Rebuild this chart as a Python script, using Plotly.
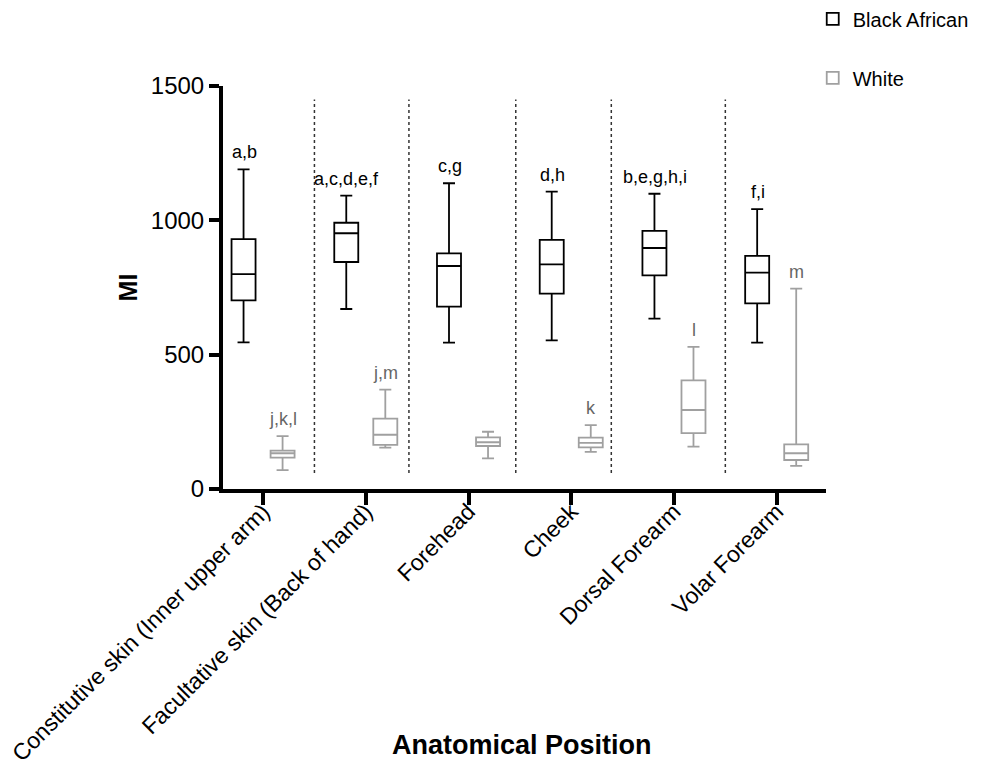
import plotly.graph_objects as go

categories = ["Constitutive skin (Inner upper arm)", "Facultative skin (Back of hand)",
              "Forehead", "Cheek", "Dorsal Forearm", "Volar Forearm"]

# Black African
ba_low = [546, 670, 545, 553, 634, 545]
ba_q1 = [702, 845, 679, 727, 795, 691]
ba_med = [800, 952, 830, 836, 897, 805]
ba_q3 = [930, 991, 877, 927, 961, 868]
ba_high = [1190, 1092, 1138, 1107, 1099, 1042]
ba_labels = ["a,b", "a,c,d,e,f", "c,g", "d,h", "b,e,g,h,i", "f,i"]

# White
wh_low = [70, 154, 114, 138, 158, 86]
wh_q1 = [117, 164, 160, 155, 208, 108]
wh_med = [133, 202, 174, 172, 294, 133]
wh_q3 = [143, 262, 192, 191, 404, 166]
wh_high = [197, 370, 213, 238, 529, 746]
wh_labels = ["j,k,l", "j,m", "", "k", "l", "m"]

separators = [0.5, 1.42, 2.46, 3.39, 4.5]

BLACK = "#000000"
GREY = "#a0a0a0"
FONT = "Liberation Sans, Arial, sans-serif"

fig = go.Figure()
fig.add_trace(go.Box(
    name="Black African", x=categories, q1=ba_q1, median=ba_med, q3=ba_q3,
    lowerfence=ba_low, upperfence=ba_high,
    line=dict(color=BLACK, width=1.8), fillcolor="white",
    whiskerwidth=0.5, legendgroup="ba",
))
fig.add_trace(go.Box(
    name="White", x=categories, q1=wh_q1, median=wh_med, q3=wh_q3,
    lowerfence=wh_low, upperfence=wh_high,
    line=dict(color=GREY, width=1.8), fillcolor="white",
    whiskerwidth=0.5, legendgroup="wh",
))

for i, c in enumerate(categories):
    if ba_labels[i]:
        fig.add_annotation(x=c, y=ba_high[i], text=ba_labels[i], showarrow=False,
                           xshift=-19, yshift=5, yanchor="bottom",
                           font=dict(family=FONT, size=18, color=BLACK))
    if wh_labels[i]:
        fig.add_annotation(x=c, y=wh_high[i], text=wh_labels[i], showarrow=False,
                           xshift=20, yshift=5, yanchor="bottom",
                           font=dict(family=FONT, size=18, color="#666666"))

for s in separators:
    fig.add_shape(type="line", xref="x", yref="y", x0=s, x1=s, y0=60, y1=1450,
                  line=dict(color="#333333", width=1.5, dash="dot"), layer="below")

# x-axis title as paper annotation (placed like the reference, between the rotated labels)
fig.add_annotation(xref="paper", yref="paper", x=0.4965, y=-0.635, showarrow=False,
                   text="<b>Anatomical Position</b>", yanchor="middle",
                   font=dict(family=FONT, size=27, color=BLACK))

fig.update_layout(
    width=974, height=765,
    margin=dict(l=215, r=156, t=78, b=284, autoexpand=False),
    plot_bgcolor="white", paper_bgcolor="white",
    boxmode="group", boxgap=0.24, boxgroupgap=0.385,
    font=dict(family=FONT, color=BLACK),
    legend=dict(x=0.978, y=1.215, xanchor="left", yanchor="top",
                font=dict(family=FONT, size=20, color=BLACK),
                tracegroupgap=30, bgcolor="rgba(0,0,0,0)"),
    xaxis=dict(
        range=[-0.39, 5.48], showline=True, linecolor=BLACK, linewidth=4,
        ticks="outside", ticklen=12, tickwidth=4, tickcolor=BLACK,
        tickangle=-45, tickfont=dict(family=FONT, size=23, color=BLACK),
        ticklabelstandoff=-16,
        showgrid=False, zeroline=False, automargin=False,
    ),
    yaxis=dict(
        range=[0, 1500], tickvals=[0, 500, 1000, 1500], showline=True, linecolor=BLACK,
        linewidth=4, ticks="outside", ticklen=10, tickwidth=4, tickcolor=BLACK,
        tickfont=dict(family=FONT, size=24, color=BLACK),
        showgrid=False, zeroline=False, automargin=False,
        title=dict(text="<b>MI</b>", font=dict(family=FONT, size=25, color=BLACK), standoff=7),
    ),
)

fig.write_html("out.html")
